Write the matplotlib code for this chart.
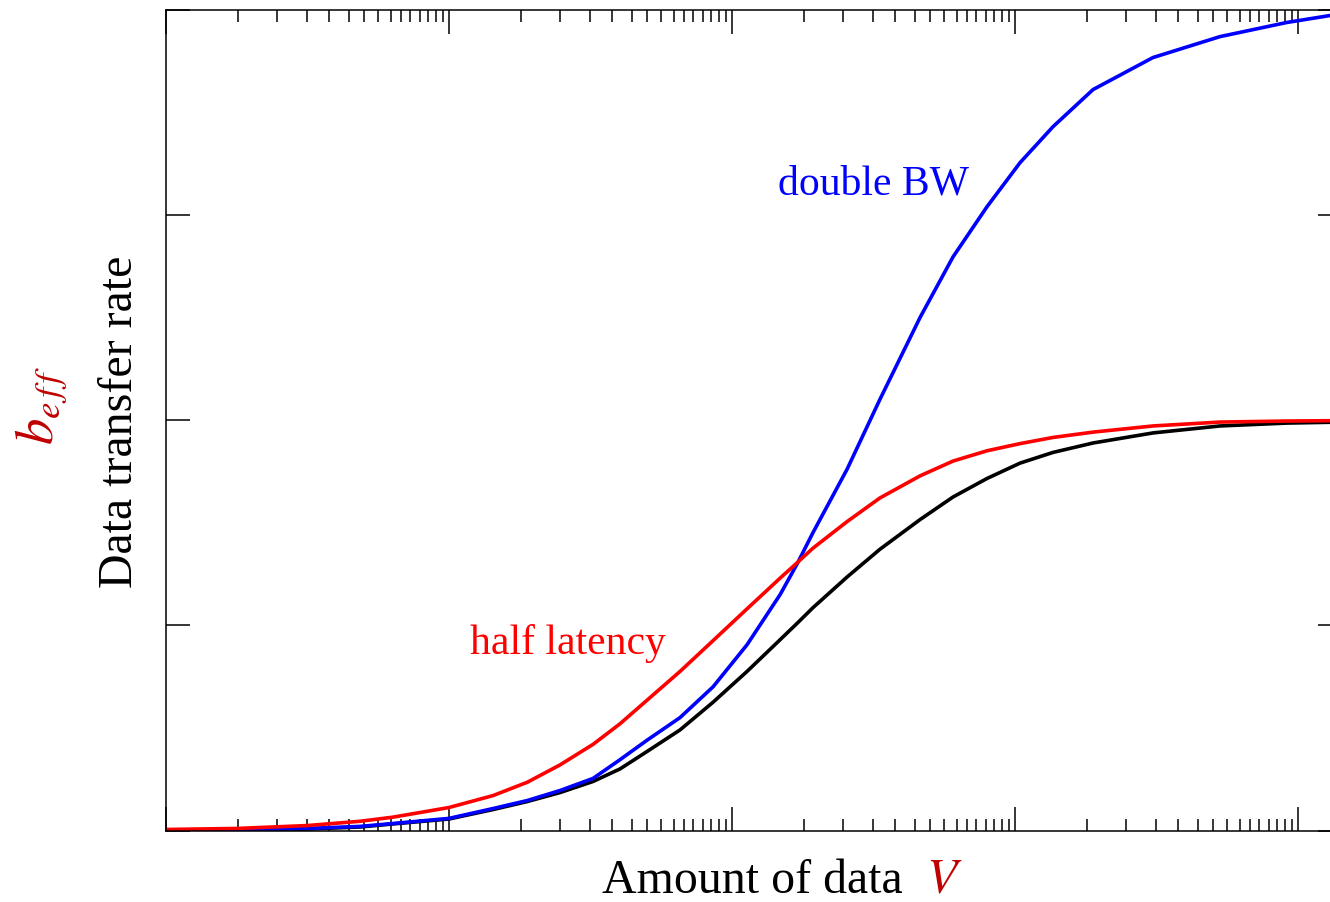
import matplotlib
matplotlib.use('Agg')
import matplotlib.pyplot as plt
from matplotlib.ticker import FixedLocator, NullFormatter

plt.rcParams['font.family'] = ['Liberation Serif', 'DejaVu Serif']
plt.rcParams['mathtext.fontset'] = 'stix'

# amount of data V
data_v = [1, 1.78, 3.15, 4.85, 6.34, 10, 14.3, 18.9, 24.7, 32.3, 40.2, 50.1, 65.5, 85.7,
          113, 148, 170, 193, 255, 333, 462, 604, 796, 1042, 1362, 1887, 3073, 5303, 9145, 14300]

# effective data transfer rate, one list per curve
rate_ref = [0.001, 0.003, 0.007, 0.017, 0.032, 0.056, 0.102, 0.141, 0.185, 0.239, 0.300, 0.385,
            0.490, 0.625, 0.775, 0.930, 1.010, 1.085, 1.235, 1.370, 1.515, 1.625, 1.715, 1.790,
            1.842, 1.888, 1.937, 1.971, 1.985, 1.990]
rate_half_lat = [0.005, 0.010, 0.024, 0.045, 0.065, 0.112, 0.170, 0.235, 0.320, 0.420, 0.520, 0.635,
                 0.775, 0.925, 1.080, 1.230, 1.305, 1.375, 1.505, 1.620, 1.728, 1.800, 1.850, 1.885,
                 1.915, 1.941, 1.971, 1.990, 1.995, 1.997]
rate_double_bw = [0.002, 0.005, 0.010, 0.020, 0.034, 0.059, 0.107, 0.146, 0.195, 0.254, 0.345, 0.440,
                  0.550, 0.700, 0.905, 1.150, 1.300, 1.450, 1.760, 2.100, 2.500, 2.795, 3.039, 3.254,
                  3.429, 3.610, 3.766, 3.868, 3.937, 3.980]

# minor tick mantissas inside each decade
minor_mant = [1.79, 2.47, 3.14, 3.78, 4.43, 5.01, 5.59, 6.24, 6.76, 7.30, 7.87, 8.40, 8.97, 9.52]
decades = [1, 10, 100, 1000, 10000]
y_ticks = [0, 1, 2, 3, 4]

dark_red = '#c00000'

fig = plt.figure(figsize=(13.3, 9.02), dpi=100)
ax = fig.add_axes([166 / 1330, 1 - 830.5 / 902, 1176 / 1330, 821 / 902])

ax.plot(data_v, rate_ref, color='black', lw=2.6)
ax.plot(data_v, rate_double_bw, color='#0000ff', lw=2.6)
ax.plot(data_v, rate_half_lat, color='#ff0000', lw=2.6)

ax.set_xscale('log')
ax.set_xlim(1, 14300)
ax.set_ylim(0, 4)

minor_ticks = [d * m for d in decades for m in minor_mant]
ax.xaxis.set_major_locator(FixedLocator(decades))
ax.xaxis.set_minor_locator(FixedLocator(minor_ticks))
ax.xaxis.set_major_formatter(NullFormatter())
ax.xaxis.set_minor_formatter(NullFormatter())
ax.yaxis.set_major_locator(FixedLocator(y_ticks))
ax.yaxis.set_major_formatter(NullFormatter())

ax.tick_params(which='both', direction='in', top=True, right=True, width=1.1, color='black')
ax.tick_params(which='major', length=17)
ax.tick_params(which='minor', length=8.5)
for sp in ax.spines.values():
    sp.set_linewidth(1.1)

# curve labels
ax.text(145, 3.1, 'double BW', color='#0000ff', fontsize=30, ha='left', va='baseline')
ax.text(11.9, 0.86, 'half latency', color='#ff0000', fontsize=30, ha='left', va='baseline')

# axis labels
fig.text(120 / 1330, 1 - 422 / 902, 'Data transfer rate', rotation=90, fontsize=34.5,
         ha='center', va='center')
fig.text(41 / 1330, 1 - 405 / 902, r'$b_{e\,f\,f}$', rotation=90, fontsize=38, color=dark_red,
         ha='center', va='center')
fig.text(602 / 1330, 1 - 893 / 902, 'Amount of data', fontsize=34.5, ha='left', va='baseline')
fig.text(926 / 1330, 1 - 893 / 902, r'$V$', fontsize=36, color=dark_red, ha='left', va='baseline')

fig.savefig('out.png', dpi=100)
